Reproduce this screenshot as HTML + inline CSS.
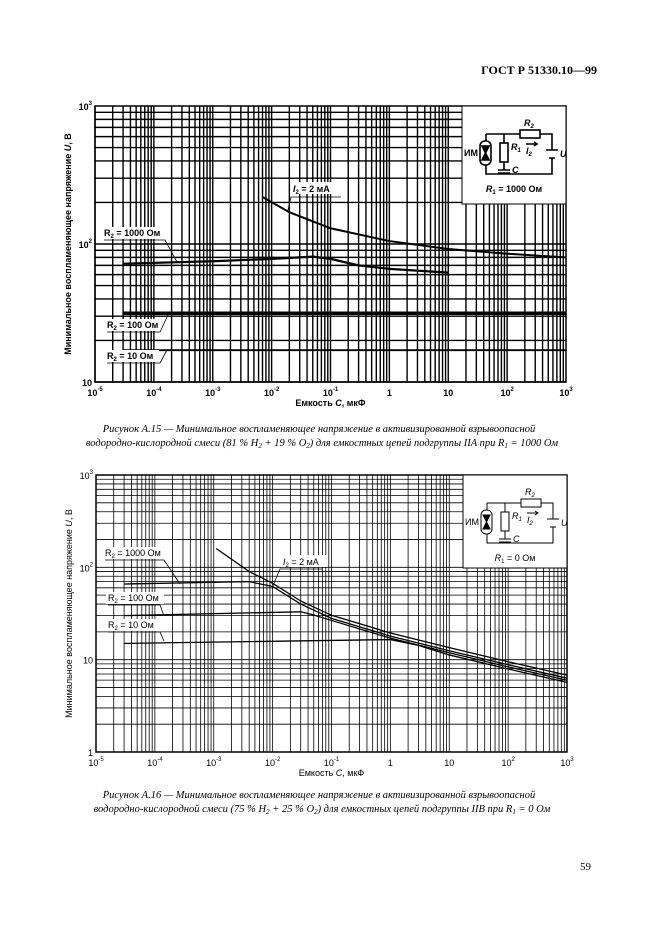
<!DOCTYPE html>
<html><head><meta charset="utf-8"><style>
html,body{margin:0;padding:0;background:#fff;}
svg{display:block;}
text{font-family:"Liberation Sans",sans-serif;}
.cap{font-family:"Liberation Serif",serif;font-style:italic;font-size:10.5px;}
</style></head><body>
<svg id="s" width="661" height="936" viewBox="0 0 661 936" xmlns="http://www.w3.org/2000/svg">
<rect width="661" height="936" fill="#fff"/>
<text x="597" y="74" text-anchor="end" style="font-family:'Liberation Serif',serif;font-weight:bold;font-size:12px">ГОСТ Р 51330.10—99</text>
<g id="g1"></g>
<g id="g2"></g>
<text class="cap" x="319" y="432" text-anchor="middle">Рисунок А.15 — Минимальное воспламеняющее напряжение в активизированной взрывоопасной</text>
<text class="cap" x="322" y="446" text-anchor="middle">водородно-кислородной смеси (81 % H<tspan font-size="7" dy="2">2</tspan><tspan dy="-2"> +  19 % O</tspan><tspan font-size="7" dy="2">2</tspan><tspan dy="-2">) для емкостных цепей подгруппы IIA при R</tspan><tspan font-size="7" dy="2">1</tspan><tspan dy="-2"> = 1000 Ом</tspan></text>
<text class="cap" x="319" y="798" text-anchor="middle">Рисунок А.16 — Минимальное воспламеняющее напряжение в активизированной взрывоопасной</text>
<text class="cap" x="322" y="812" text-anchor="middle">водородно-кислородной смеси (75 % H<tspan font-size="7" dy="2">2</tspan><tspan dy="-2"> +  25 % O</tspan><tspan font-size="7" dy="2">2</tspan><tspan dy="-2">) для емкостных цепей подгруппы IIB при R</tspan><tspan font-size="7" dy="2">1</tspan><tspan dy="-2"> = 0 Ом</tspan></text>
<text x="591" y="870" text-anchor="end" style="font-family:'Liberation Serif',serif;font-size:11px">59</text>
</svg>
<script>
var NS="http://www.w3.org/2000/svg";
function el(p,t,a,txt){var e=document.createElementNS(NS,t);for(var k in a)e.setAttribute(k,a[k]);if(txt!==undefined)e.innerHTML=txt;p.appendChild(e);return e;}
function chart(g,o){
 var L=o.L,R=o.R,T=o.T,B=o.B,dec=o.ydec,ymin=o.ymin;
 var px=(R-L)/8, py=(B-T)/dec;
 function X(lc){return L+(lc+5)*px;} function Y(lu){return B-(lu-ymin)*py;}
 o.X=X;o.Y=Y;
 for(var d=-5;d<3;d++)for(var m=1;m<10;m++){var x=X(d+Math.log10(m));el(g,"line",{x1:x,y1:T,x2:x,y2:B,stroke:"#000","stroke-width":o.gw});}
 for(var d=ymin;d<ymin+dec;d++)for(var m=1;m<10;m++){var y=Y(d+Math.log10(m));el(g,"line",{x1:L,y1:y,x2:R,y2:y,stroke:"#000","stroke-width":o.gw});}
 el(g,"rect",{x:L,y:T,width:R-L,height:B-T,fill:"none",stroke:"#000","stroke-width":1.5});
 var xl=["10<tspan dy='-5' font-size='6'>-5</tspan>","10<tspan dy='-5' font-size='6'>-4</tspan>","10<tspan dy='-5' font-size='6'>-3</tspan>","10<tspan dy='-5' font-size='6'>-2</tspan>","10<tspan dy='-5' font-size='6'>-1</tspan>","1","10","10<tspan dy='-5' font-size='6'>2</tspan>","10<tspan dy='-5' font-size='6'>3</tspan>"];
 for(var i=0;i<9;i++)el(g,"text",{x:L+i*px,y:B+14,"text-anchor":"middle","font-size":9,"font-weight":o.bold},xl[i]);
 for(var i=0;i<=dec;i++){var v=ymin+i;var t=v==0?"1":v==1?"10":"10<tspan dy='-5' font-size='6'>"+v+"</tspan>";el(g,"text",{x:L-3,y:Y(v)+4,"text-anchor":"end","font-size":9,"font-weight":o.bold},t);}
 el(g,"text",{x:(L+R)/2,y:B+24,"text-anchor":"middle","font-size":9,"font-weight":o.bold},"Емкость <tspan font-style='italic'>C</tspan>, мкФ");
 el(g,"text",{transform:"translate("+(L-24)+","+((T+B)/2)+") rotate(-90)","text-anchor":"middle","font-size":9,"font-weight":o.bold},"Минимальное воспламеняющее напряжение <tspan font-style='italic'>U</tspan>, В");
 var ix=o.ix,iy=T,iw=R-ix,ih=o.ib-T;
 el(g,"rect",{x:ix,y:iy,width:iw,height:ih,fill:"#fff",stroke:"#000","stroke-width":1});
 var c=el(g,"g",{transform:"translate("+ix+","+(T+o.ioff)+")",fill:"none",stroke:"#000","stroke-width":o.bold=="bold"?1.6:1});
 el(c,"path",{d:"M24,24 H58 M78,24 H90 V40 M90,48 V64 H24 V24 M42,24 V33 M42,52 V60 M42,63 V64"});
 el(c,"rect",{x:58,y:20,width:20,height:8});
 el(c,"rect",{x:38,y:33,width:8,height:19});
 el(c,"path",{d:"M36,60 H48 M36,63 H48 M84,40 H96 M87,48 H93 M64,34 H74 M72,32 L75,34 L72,36"});
 el(c,"rect",{x:18,y:31,width:11,height:24,rx:5,fill:"#fff"});
 el(c,"path",{d:"M20,36 H27 L20,50 H27 Z",fill:"#000"});
 var t=el(g,"g",{transform:"translate("+ix+","+(T+o.ioff)+")","font-size":9,"font-weight":o.bold});
 el(t,"text",{x:16,y:46,"text-anchor":"end"},"ИМ");
 el(t,"text",{x:62,y:16,"font-style":"italic"},"R<tspan font-size='6' dy='2'>2</tspan>");
 el(t,"text",{x:49,y:40,"font-style":"italic"},"R<tspan font-size='6' dy='2'>1</tspan>");
 el(t,"text",{x:64,y:44,"font-style":"italic"},"I<tspan font-size='6' dy='2'>2</tspan>");
 el(t,"text",{x:50,y:63,"font-style":"italic"},"C");
 el(t,"text",{x:98,y:47,"font-style":"italic"},"U");
 el(t,"text",{x:52,y:82,"text-anchor":"middle"},"<tspan font-style='italic'>R</tspan><tspan font-size='6' dy='2'>1</tspan><tspan dy='-2'> = "+o.r1+" Ом</tspan>");
}
function path(g,o,pts,w){var d="";pts.forEach(function(p,i){d+=(i?"L":"M")+o.X(Math.log10(p[0]))+","+o.Y(Math.log10(p[1]))+" ";});el(g,"path",{d:d,fill:"none",stroke:"#000","stroke-width":w});}
function lbl(g,x,y,txt,lx1,ly1,lx2,ly2,lx3,ly3,bold,w){
 el(g,"rect",{x:x-2,y:y-9,width:w,height:12,fill:"#fff"});
 el(g,"text",{x:x,y:y,"font-size":9,"font-weight":bold},txt);
 el(g,"path",{d:"M"+lx1+","+ly1+" L"+lx2+","+ly2+" L"+lx3+","+ly3,fill:"none",stroke:"#000","stroke-width":0.8});
}
var g1=document.getElementById("g1"),g2=document.getElementById("g2");
var o1={L:95,R:566,T:106,B:382,ymin:1,ydec:2,gw:1.4,bold:"bold",ix:462,ib:204,ioff:4,r1:"1000"};
chart(g1,o1);
path(g1,o1,[[3e-5,72],[1e-3,75],[1e-2,78],[0.05,81],[0.1,78],[0.3,70],[1,66],[10,62]],2.2);
path(g1,o1,[[0.007,219],[0.02,170],[0.1,130],[1,105],[10,92],[100,85],[1000,80]],2);
path(g1,o1,[[3e-5,31.5],[1000,31.5]],3.5);
path(g1,o1,[[3e-5,17],[1000,17]],1.8);
var q=function(t){return t.replace(/R2/,"R<tspan font-size='6' dy='2'>2</tspan><tspan dy='-2'>")+"</tspan>";};
lbl(g1,104,236,q("R2 = 1000 Ом"),104,240,165,240,177,262,"bold",62);
lbl(g1,107,328,q("R2 = 100 Ом"),107,332,160,332,168,315,"bold",58);
lbl(g1,107,359,q("R2 = 10 Ом"),107,363,160,363,167,350,"bold",54);
el(g1,"rect",{x:291,y:182,width:48,height:12,fill:"#fff"});
el(g1,"text",{x:293,y:192,"font-size":9,"font-weight":"bold"},"<tspan font-style='italic'>I</tspan><tspan font-size='6' dy='2'>2</tspan><tspan dy='-2'> = 2 мА</tspan>");
el(g1,"path",{d:"M341,197 L291,197 L288,210",fill:"none",stroke:"#000","stroke-width":0.8});
var o2={L:96,R:567,T:475,B:752,ymin:0,ydec:3,gw:0.8,bold:"normal",ix:463,ib:568,ioff:4,r1:"0"};
chart(g2,o2);
var tail=function(k){return [[0.01,62*k],[0.03,40*k],[0.1,28*k],[1,18*k],[10,12.5*k],[100,8.8*k],[1000,6.3*k]];};
path(g2,o2,[[3e-5,66],[4e-3,70],[0.01,62]].concat(tail(1).slice(1)),1.3);
path(g2,o2,[[1.1e-3,160],[4e-3,90],[0.01,64*1.05]].concat(tail(1.08).slice(1)),1.3);
path(g2,o2,[[3e-5,30],[0.03,33],[0.05,30.5]].concat(tail(0.95).slice(2)),1.3);
path(g2,o2,[[3e-5,15],[1,16.5],[3,14.3]].concat(tail(0.9).slice(4)),1.3);
lbl(g2,105,556,q("R2 = 1000 Ом"),105,560,164,560,180,584,"normal",66);
lbl(g2,108,601,q("R2 = 100 Ом"),108,605,160,605,164,616,"normal",58);
lbl(g2,108,628,q("R2 = 10 Ом"),108,632,160,632,164,641,"normal",54);
el(g2,"rect",{x:281,y:555,width:46,height:12,fill:"#fff"});
el(g2,"text",{x:283,y:565,"font-size":9},"<tspan font-style='italic'>I</tspan><tspan font-size='6' dy='2'>2</tspan><tspan dy='-2'> = 2 мА</tspan>");
el(g2,"path",{d:"M322,569 L280,569 L272,588",fill:"none",stroke:"#000","stroke-width":0.8});
</script>
</body></html>
